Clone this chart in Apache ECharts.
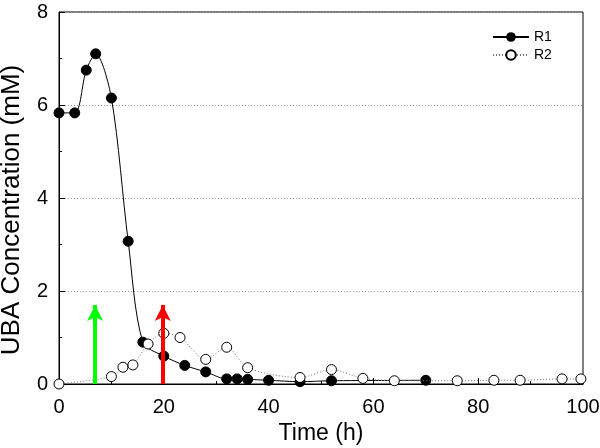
<!DOCTYPE html>
<html><head><meta charset="utf-8">
<script src="https://cdn.jsdelivr.net/npm/echarts@6/dist/echarts.min.js"></script>
<style>html,body{margin:0;padding:0;background:#fff}#c{width:600px;height:448px}</style>
</head><body><div id="c"></div>
<script>
const xTicks = [0, 20, 40, 60, 80, 100];
const yTicks = [0, 2, 4, 6, 8];
const r1Time = [0, 3, 5.2, 7, 10, 13.2, 16, 20, 24, 28, 32, 34, 36, 40, 46, 52, 70];
const r1Conc = [5.83, 5.83, 6.75, 7.1, 6.15, 3.07, 0.9, 0.6, 0.4, 0.26, 0.11, 0.11, 0.1, 0.08, 0.05, 0.07, 0.08];
const r2Time = [0, 10, 12.2, 14.1, 17, 20, 23.1, 28, 32, 36, 46, 52, 58, 64, 76, 83, 88, 96, 99.6];
const r2Conc = [0, 0.16, 0.36, 0.41, 0.86, 1.09, 1.0, 0.53, 0.79, 0.35, 0.14, 0.31, 0.12, 0.07, 0.07, 0.08, 0.08, 0.11, 0.11];
const arrowGreenX = 6.9, arrowRedX = 19.8, arrowTop = 1.7;

const font = 'Liberation Sans, Arial, sans-serif';
const chart = echarts.init(document.getElementById('c'));
chart.setOption({
  animation: false,
  grid: {left: 59, right: 17, top: 12, bottom: 64, show: true, borderColor: '#000', borderWidth: 1,
         containLabel: false, outerBoundsMode: 'none'},
  legend: {
    left: 487, top: 25, orient: 'vertical', itemGap: 4, itemWidth: 36, itemHeight: 12, padding: 5,
    textStyle: {fontFamily: font, fontSize: 14, color: '#000'},
    data: ['R1', 'R2']
  },
  graphic: [{
    type: 'text', x: 12, y: 210, rotation: Math.PI / 2,
    style: {text: 'UBA Concentration (mM)', fontFamily: font, fontSize: 26, fill: '#000',
            align: 'center', verticalAlign: 'middle'}
  }],
  xAxis: {
    type: 'value', min: 0, max: 100, interval: 20,
    name: 'Time (h)', nameLocation: 'middle', nameGap: 38,
    nameTextStyle: {fontFamily: font, fontSize: 23, color: '#000'},
    axisLine: {show: true, lineStyle: {color: '#000', width: 1}},
    axisTick: {show: true, inside: true, length: 6, lineStyle: {color: '#000'}},
    minorTick: {show: true, splitNumber: 2, length: 3, lineStyle: {color: '#000'}},
    axisLabel: {fontFamily: font, fontSize: 20, color: '#000', margin: 13,
      formatter: v => xTicks.includes(v) ? String(v) : ''},
    splitLine: {show: false}
  },
  yAxis: {
    type: 'value', min: 0, max: 8, interval: 2,
    axisLine: {show: true, lineStyle: {color: '#000', width: 1}},
    axisTick: {show: true, inside: true, length: 6, lineStyle: {color: '#000'}},
    minorTick: {show: true, splitNumber: 2, length: 3, lineStyle: {color: '#000'}},
    axisLabel: {fontFamily: font, fontSize: 20, color: '#000', margin: 11,
      formatter: v => yTicks.includes(v) ? String(v) : ''},
    splitLine: {show: true, lineStyle: {color: '#999', type: [1, 2], width: 1}}
  },
  series: [
    {
      name: 'R1', type: 'line', smooth: 0.3,
      data: r1Time.map((t, i) => [t, r1Conc[i]]),
      symbol: 'circle', symbolSize: 10,
      itemStyle: {color: '#000', borderColor: '#000'},
      lineStyle: {color: '#000', width: 1},
      z: 3,
      markLine: {
        silent: true, symbol: ['none', 'arrow'], symbolSize: [12, 16],
        label: {show: false},
        data: [
          [{coord: [arrowGreenX, 0], lineStyle: {color: '#00ff00', width: 4, type: 'solid'}, itemStyle: {color: '#00ff00'}},
           {coord: [arrowGreenX, arrowTop]}],
          [{coord: [arrowRedX, 0], lineStyle: {color: '#ff0000', width: 4, type: 'solid'}, itemStyle: {color: '#ff0000'}},
           {coord: [arrowRedX, arrowTop]}]
        ]
      }
    },
    {
      name: 'R2', type: 'line', smooth: 0.3,
      data: r2Time.map((t, i) => [t, r2Conc[i]]),
      symbol: 'circle', symbolSize: 10,
      itemStyle: {color: '#fff', borderColor: '#000', borderWidth: 1},
      lineStyle: {color: '#777', width: 1, type: [1, 2]},
      z: 4
    }
  ]
});
</script></body></html>
